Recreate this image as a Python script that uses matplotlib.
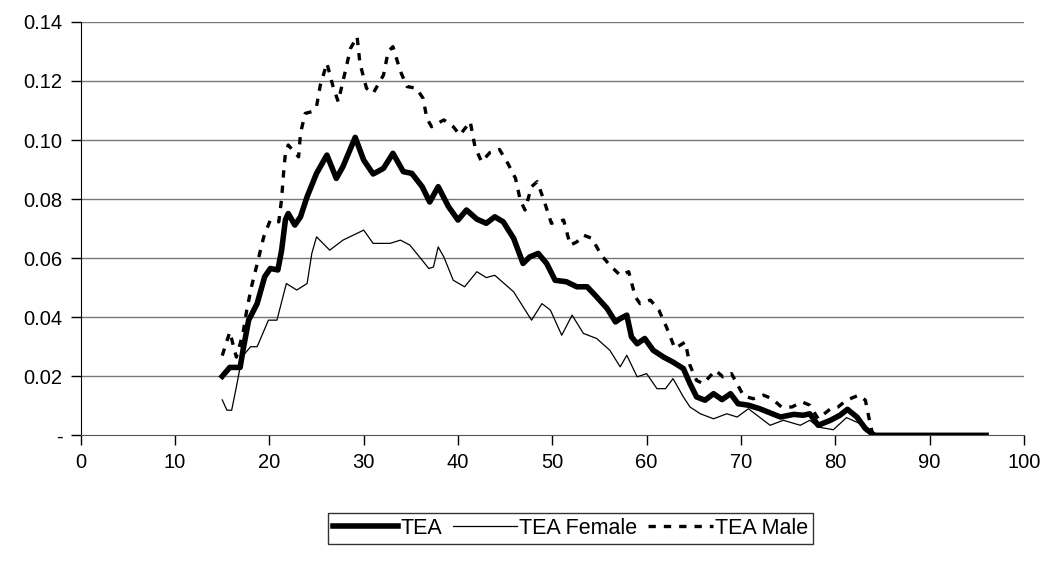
import matplotlib
matplotlib.use("Agg")
import matplotlib.pyplot as plt
import numpy as np

# TEA (all)
tea_x = [15, 15.8, 16.9, 17.2, 17.8, 18.7, 19.5, 20.1, 20.9, 21.3,
         21.7, 22.0, 22.7, 23.3, 24.0, 25.0, 26.1, 27.1, 27.8, 29.1,
         30.0, 31.0, 32.1, 33.1, 34.2, 35.1, 36.2, 37.0, 37.9, 39.0,
         40.0, 40.9, 42.0, 43.0, 43.9, 44.8, 45.9, 46.9, 47.6, 48.5,
         49.4, 50.3, 51.5, 52.6, 53.7, 54.7, 55.8, 56.7, 57.2, 57.9,
         58.4, 59.0, 59.8, 60.7, 61.8, 62.8, 63.9, 64.6, 65.3, 66.2,
         67.1, 68.0, 68.9, 69.7, 70.8, 72.0, 74.2, 75.6, 76.6, 77.3,
         78.2, 79.5, 80.5, 81.3, 82.3, 83.2, 83.9, 84.2, 96]
tea_y = [.020, .023, .023, .0288, .039, .0446, .0537, .0565, .056, .0627,
         .073, .0751, .0712, .074, .0808, .0887, .0949, .087, .091, .1009,
         .0932, .0885, .0904, .0955, .0893, .0887, .0842, .079, .0842, .0774,
         .0729, .0763, .0732, .0718, .074, .0723, .0667, .0582, .0604, .0616,
         .0582, .0525, .052, .0503, .0503, .0469, .043, .0384, .0395, .0407,
         .0333, .031, .0328, .0288, .0265, .0248, .0226, .0175, .013, .0119,
         .0141, .0121, .0141, .0107, .0102, .009, .0062, .0071, .0068, .0073,
         .0034, .0051, .0068, .0088, .0062, .0023, .0006, 0, 0]

# TEA Female
fem_x = [15, 15.5, 16.0, 16.5, 17.1, 18.0, 18.7, 19.9, 20.8, 21.8,
         22.9, 24.0, 24.5, 25.0, 26.4, 27.8, 29.3, 30.0, 31.0, 32.8,
         33.9, 34.9, 36.2, 36.9, 37.4, 37.9, 38.5, 39.5, 40.7, 42.0,
         43.0, 43.9, 45.9, 47.8, 48.9, 49.8, 51.0, 52.1, 53.3, 54.7,
         56.1, 57.2, 57.9, 59.0, 60.0, 61.1, 62.0, 62.8, 63.9, 64.6,
         65.7, 67.1, 68.5, 69.6, 70.8, 73.1, 74.5, 76.3, 77.3, 78.2,
         79.8, 81.2, 82.6, 83.4, 84, 96]
fem_y = [.012, .0085, .0085, .0164, .0265, .030, .030, .039, .039, .0514,
         .0492, .0514, .0616, .0672, .0627, .0661, .0684, .0695, .065, .065,
         .0661, .0644, .0593, .0565, .057, .0638, .0604, .0525, .0503, .0554,
         .0534, .0542, .0486, .039, .0446, .0424, .0339, .0407, .0345, .0328,
         .0288, .0232, .0271, .0198, .0209, .0158, .0158, .0192, .013, .0096,
         .0073, .0056, .0073, .0062, .009, .0034, .0051, .0034, .0051, .0028,
         .0019, .006, .004, .0011, 0, 0]

# TEA Male
male_x = [15, 15.8, 16.5, 17.2, 17.6, 18.1, 18.8, 19.4, 20.1, 21.0,
          21.3, 21.5, 21.7, 22.0, 23.1, 23.3, 23.8, 24.5, 25.0, 25.4,
          26.1, 26.8, 27.3, 28.0, 28.6, 29.3, 29.6, 30.3, 31.0, 32.1,
          32.6, 33.1, 33.9, 34.6, 35.6, 36.3, 36.7, 37.2, 38.5, 39.5,
          40.2, 41.3, 41.8, 42.5, 43.4, 44.4, 45.3, 46.1, 46.6, 47.1,
          47.8, 48.4, 49.1, 49.9, 51.2, 51.9, 52.6, 53.3, 54.2, 55.2,
          56.1, 57.2, 58.1, 58.8, 59.3, 60.4, 61.3, 62.1, 63.0, 64.1,
          64.6, 65.3, 66.0, 67.3, 68.1, 69.0, 70.3, 71.3, 72.4, 73.3,
          74.3, 75.4, 76.5, 77.3, 78.2, 79.5, 80.3, 81.2, 82.5, 83.2,
          83.7, 84, 96]
male_y = [.027, .035, .0265, .0345, .0424, .0503, .0593, .0672, .0729, .0723,
          .0802, .0887, .0955, .0983, .0943, .1023, .109, .1096, .1113, .1186,
          .126, .1175, .113, .1226, .131, .135, .126, .1175, .1158, .122,
          .130, .1316, .1232, .1181, .1175, .1141, .1073, .1045, .1068, .1045,
          .1017, .1062, .0977, .0926, .0958, .0968, .092, .087, .0797, .0763,
          .0842, .0859, .0797, .0718, .0729, .0644, .0655, .0678, .0667, .061,
          .0576, .0542, .0554, .0469, .0446, .0458, .0424, .0367, .0294, .0316,
          .0237, .0186, .0175, .022, .0198, .0209, .0133, .0124, .0136, .0124,
          .0096, .0096, .0113, .0102, .0056, .009, .0096, .0119, .0136, .0119,
          .004, 0, 0]

x_ticks = np.arange(0, 101, 10)
y_ticks = np.arange(0, 0.141, 0.02)
y_labels = ['-'] + ['%.2f' % v for v in y_ticks[1:]]

plt.rcParams['font.family'] = ['Liberation Sans', 'DejaVu Sans']

fig = plt.figure(figsize=(10.49, 5.61), dpi=100)
ax = fig.add_axes([0.077, 0.224, 0.899, 0.737])

ax.plot(tea_x, tea_y, color='black', lw=4.0, solid_joinstyle='round', label='TEA', zorder=4)
ax.plot(fem_x, fem_y, color='black', lw=0.9, label='TEA Female', zorder=3)
ax.plot(male_x, male_y, color='black', lw=2.4, linestyle=(0, (2.2, 2.4)), label='TEA Male', zorder=3)

ax.set_xlim(0, 100)
ax.set_ylim(0, 0.14)
ax.set_xticks(x_ticks)
ax.set_yticks(y_ticks)
ax.set_yticklabels(y_labels)
ax.tick_params(axis='both', labelsize=14.5, length=7, width=1, direction='out', pad=6)
for v in y_ticks[1:]:
    ax.axhline(v, color='#777777', lw=1, zorder=1)
ax.spines['top'].set_visible(False)
ax.spines['right'].set_visible(False)
ax.spines['left'].set_color('black')
ax.spines['bottom'].set_color('#555555')

leg = fig.legend(loc='center', bbox_to_anchor=(0.544, 0.058), ncol=3, fontsize=15.5,
                 frameon=True, fancybox=False, edgecolor='black', handlelength=3.0,
                 handletextpad=0.1, columnspacing=0.5, borderpad=0.25, borderaxespad=0)
leg.get_frame().set_linewidth(1)

fig.savefig('out.png', dpi=100)
